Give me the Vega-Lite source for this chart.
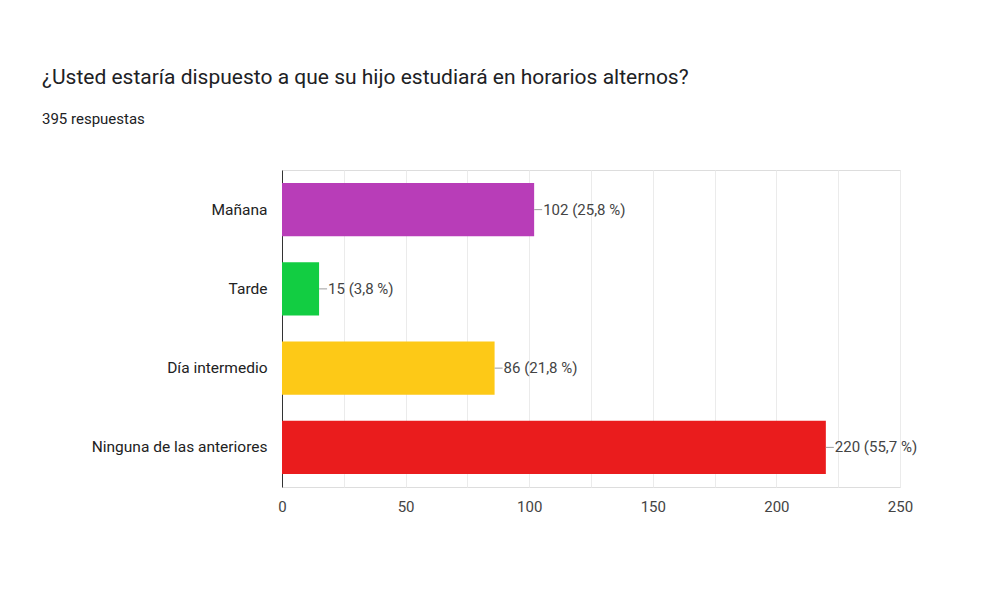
{
  "$schema": "https://vega.github.io/schema/vega-lite/v6.json",
  "autosize": {"type": "none"},
  "width": 618,
  "height": 317,
  "padding": {"left": 282, "top": 170, "right": 104, "bottom": 115},
  "background": "#ffffff",
  "title": {
    "text": "¿Usted estaría dispuesto a que su hijo estudiará en horarios alternos?",
    "subtitle": "395 respuestas",
    "anchor": "start",
    "frame": "group",
    "dx": -240,
    "offset": 43,
    "font": "Roboto",
    "fontSize": 21,
    "fontWeight": "normal",
    "color": "#202124",
    "subtitleFont": "Roboto",
    "subtitleFontSize": 15,
    "subtitleColor": "#202124",
    "subtitlePadding": 24
  },
  "data": {
    "values": [
      {"opcion": "Mañana", "respuestas": 102, "etiqueta": "102 (25,8 %)"},
      {"opcion": "Tarde", "respuestas": 15, "etiqueta": "15 (3,8 %)"},
      {"opcion": "Día intermedio", "respuestas": 86, "etiqueta": "86 (21,8 %)"},
      {"opcion": "Ninguna de las anteriores", "respuestas": 220, "etiqueta": "220 (55,7 %)"}
    ]
  },
  "encoding": {
    "y": {
      "field": "opcion",
      "type": "nominal",
      "sort": null,
      "scale": {"paddingInner": 0.33, "paddingOuter": 0.165},
      "axis": {
        "title": null,
        "ticks": false,
        "grid": false,
        "domain": true,
        "domainColor": "#333333",
        "labelFont": "Roboto",
        "labelFontSize": 15.5,
        "labelColor": "#222222",
        "labelPadding": 15
      }
    }
  },
  "layer": [
    {
      "mark": {"type": "bar"},
      "encoding": {
        "x": {
          "field": "respuestas",
          "type": "quantitative",
          "scale": {"domain": [0, 250], "nice": false},
          "axis": {
            "title": null,
            "values": [0, 25, 50, 75, 100, 125, 150, 175, 200, 225, 250],
            "labelExpr": "datum.value % 50 === 0 ? datum.label : ''",
            "labelFlush": false,
            "ticks": false,
            "domain": false,
            "gridColor": "#ebebeb",
            "labelFont": "Roboto",
            "labelFontSize": 15,
            "labelColor": "#444444",
            "labelPadding": 12
          }
        },
        "color": {
          "field": "opcion",
          "type": "nominal",
          "legend": null,
          "scale": {
            "domain": ["Mañana", "Tarde", "Día intermedio", "Ninguna de las anteriores"],
            "range": ["#b83db8", "#12cd42", "#fdc917", "#ea1c1d"]
          }
        }
      }
    },
    {
      "mark": {"type": "rule", "color": "#9e9e9e", "strokeWidth": 1, "x2Offset": 8},
      "encoding": {
        "x": {"field": "respuestas", "type": "quantitative"},
        "x2": {"field": "respuestas"}
      }
    },
    {
      "mark": {"type": "text", "align": "left", "baseline": "middle", "dx": 9, "font": "Roboto", "fontSize": 15, "color": "#444444"},
      "encoding": {
        "x": {"field": "respuestas", "type": "quantitative"},
        "text": {"field": "etiqueta"}
      }
    }
  ]
}
